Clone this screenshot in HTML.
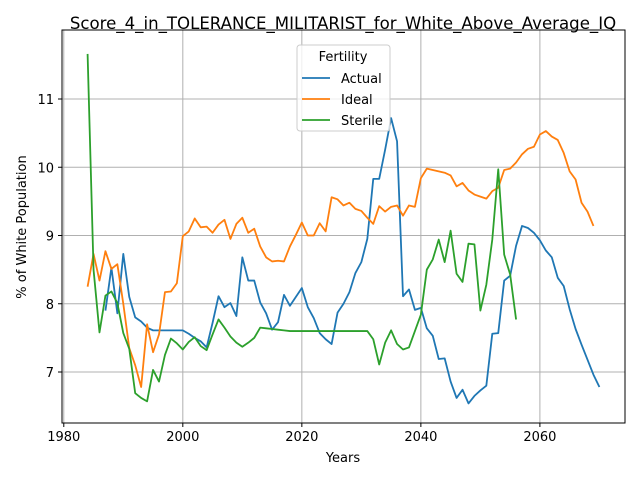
<!DOCTYPE html>
<html><head><meta charset="utf-8"><style>
body{margin:0;background:#fff;font-family:"Liberation Sans","DejaVu Sans",sans-serif}
svg text{font-family:"DejaVu Sans","Liberation Sans",sans-serif;fill:#000}
</style></head><body>
<svg id="c" width="640" height="480"></svg>
<script>
const years=[];for(let y=1984;y<=2070;y++)years.push(y);
const actualStart=1987;
const actual=[7.9,8.53,7.86,8.73,8.1,7.8,7.74,7.65,7.61,7.61,7.61,7.61,7.61,7.61,7.56,7.5,7.45,7.36,7.72,8.11,7.95,8.01,7.82,8.68,8.34,8.34,8.02,7.86,7.62,7.73,8.13,7.97,8.1,8.23,7.95,7.79,7.57,7.48,7.41,7.87,8.0,8.17,8.45,8.61,8.95,9.83,9.83,10.26,10.72,10.38,8.11,8.21,7.91,7.94,7.64,7.53,7.19,7.2,6.86,6.62,6.74,6.54,6.65,6.73,6.8,7.56,7.57,8.34,8.41,8.85,9.14,9.11,9.04,8.93,8.78,8.68,8.38,8.26,7.92,7.63,7.4,7.18,6.96,6.78];
const idealStart=1984;
const ideal=[8.25,8.73,8.34,8.77,8.51,8.58,8.0,7.35,7.1,6.78,7.7,7.29,7.55,8.17,8.18,8.3,8.99,9.06,9.25,9.12,9.13,9.04,9.16,9.23,8.95,9.17,9.26,9.04,9.1,8.84,8.68,8.62,8.63,8.62,8.84,9.01,9.19,9.0,9.0,9.18,9.06,9.56,9.53,9.44,9.48,9.39,9.36,9.26,9.17,9.43,9.35,9.42,9.44,9.29,9.44,9.42,9.84,9.98,9.96,9.94,9.92,9.88,9.72,9.77,9.66,9.6,9.57,9.54,9.65,9.7,9.96,9.98,10.07,10.19,10.27,10.3,10.48,10.53,10.45,10.4,10.21,9.94,9.82,9.48,9.35,9.14];
const sterileStart=1984;
const sterile=[11.66,8.5,7.58,8.12,8.18,8.01,7.57,7.34,6.69,6.62,6.57,7.03,6.86,7.25,7.49,7.42,7.33,7.44,7.51,7.38,7.32,7.55,7.77,7.65,7.52,7.43,7.37,7.43,7.5,7.65,7.64,7.63,7.62,7.61,7.6,7.6,7.6,7.6,7.6,7.6,7.6,7.6,7.6,7.6,7.6,7.6,7.6,7.6,7.48,7.11,7.43,7.61,7.41,7.33,7.36,7.6,7.84,8.5,8.65,8.94,8.61,9.07,8.44,8.32,8.88,8.87,7.9,8.28,8.94,9.97,8.72,8.43,7.77];
const xTicks=[1980,2000,2020,2040,2060];
const yTicks=[7,8,9,10,11];
const L=62,R=625,T=30,B=423;
const xmin=1979.7,xmax=2074.3;
const X=v=>L+(v-xmin)/(xmax-xmin)*(R-L);
const Y=v=>372-(v-7)*68.25;
const svg=document.getElementById('c');const NS='http://www.w3.org/2000/svg';
function mk(t,a,p){const e=document.createElementNS(NS,t);for(const k in a)e.setAttribute(k,a[k]);(p||svg).appendChild(e);return e;}
const grid=mk('g',{});


xTicks.forEach(t=>{mk('line',{x1:X(t),x2:X(t),y1:T,y2:B,stroke:'#b0b0b0','stroke-width':1},grid);
 mk('line',{x1:X(t),x2:X(t),y1:B,y2:B+4,stroke:'#000'});
 const tx=mk('text',{x:X(t),y:B+18,'text-anchor':'middle','font-size':13});tx.textContent=t;
 
 });
yTicks.forEach(t=>{mk('line',{x1:L,x2:R,y1:Y(t),y2:Y(t),stroke:'#b0b0b0','stroke-width':1},grid);
 mk('line',{x1:L-4,x2:L,y1:Y(t),y2:Y(t),stroke:'#000'});
 const tx=mk('text',{x:L-8,y:Y(t)+5,'text-anchor':'end','font-size':13});tx.textContent=t;
 
 });
function series(data,start,color,name){const pts=data.map((v,i)=>X(start+i).toFixed(2)+','+Y(v).toFixed(2)).join(' ');
 const p=mk('polyline',{points:pts,fill:'none',stroke:color,'stroke-width':1.8,'stroke-linejoin':'round'});
 
 }
series(actual,actualStart,'#1f77b4','actual-line');
series(ideal,idealStart,'#ff7f0e','ideal-line');
series(sterile,sterileStart,'#2ca02c','sterile-line');
const fr=mk('rect',{x:L,y:T,width:R-L,height:B-T,fill:'none',stroke:'#000','stroke-width':1});


const ti=mk('text',{x:343,y:29,'text-anchor':'middle','font-size':16.6});ti.textContent='Score_4_in_TOLERANCE_MILITARIST_for_White_Above_Average_IQ';


const xl=mk('text',{x:343,y:462,'text-anchor':'middle','font-size':13});xl.textContent='Years';


const yl=mk('text',{x:0,y:0,'text-anchor':'middle','font-size':13,transform:'translate(26,227) rotate(-90)'});yl.textContent='% of White Population';


const lg=mk('g',{});


mk('rect',{x:297,y:45,width:93,height:86,rx:3,fill:'#fff','fill-opacity':0.8,stroke:'#ccc'},lg);
const lt=mk('text',{x:343,y:61,'text-anchor':'middle','font-size':13},lg);lt.textContent='Fertility';
[['Actual','#1f77b4'],['Ideal','#ff7f0e'],['Sterile','#2ca02c']].forEach((e,i)=>{const yy=78+i*21;
 mk('line',{x1:302,x2:330,y1:yy,y2:yy,stroke:e[1],'stroke-width':1.8},lg);
 const t=mk('text',{x:341,y:yy+5,'font-size':13},lg);t.textContent=e[0];
 
 });
</script>
</body></html>
